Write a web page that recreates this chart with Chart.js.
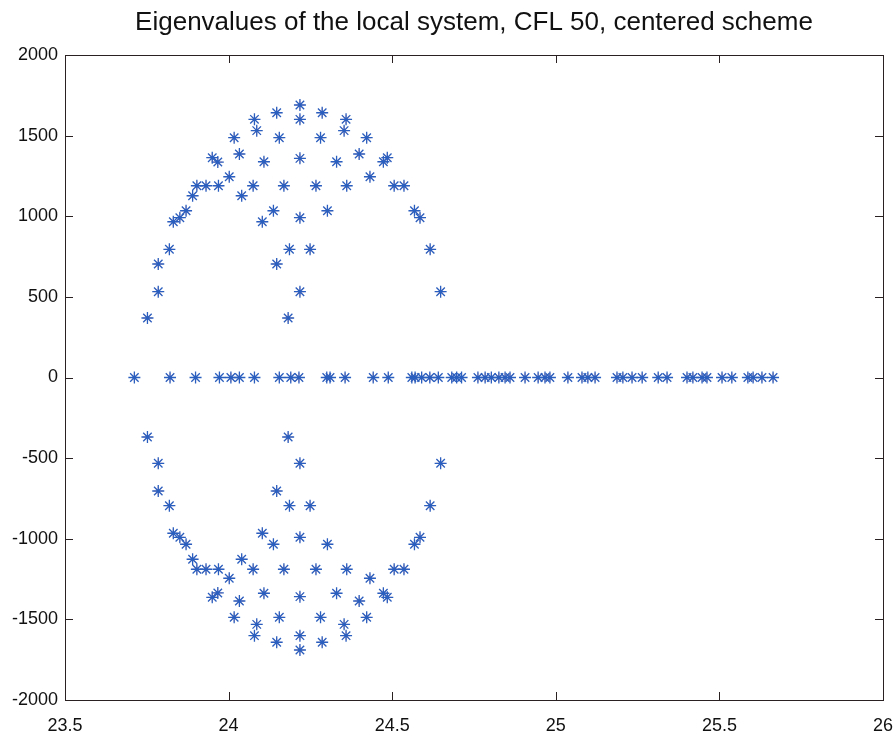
<!DOCTYPE html>
<html>
<head>
<meta charset="utf-8">
<script src="https://cdn.jsdelivr.net/npm/chart.js@4/dist/chart.umd.min.js"></script>
<style>
  html, body { margin: 0; padding: 0; background: #fff; }
  #wrap { width: 896px; height: 736px; }
</style>
</head>
<body>
<div id="wrap"><canvas id="eigChart" width="896" height="736"></canvas></div>
<script>
// real eigenvalues (imaginary part 0)
const realRe = [23.712, 23.821, 23.899, 23.972, 24.007, 24.033, 24.079, 24.155, 24.190, 24.215,
  24.300, 24.310, 24.356, 24.442, 24.488, 24.560, 24.570, 24.590, 24.615, 24.641,
  24.682, 24.697, 24.712, 24.762, 24.784, 24.803, 24.826, 24.845, 24.860, 24.906,
  24.946, 24.967, 24.982, 25.037, 25.080, 25.098, 25.120, 25.187, 25.205, 25.233,
  25.264, 25.313, 25.340, 25.401, 25.419, 25.447, 25.462, 25.508, 25.538, 25.587,
  25.603, 25.630, 25.664];

// complex eigenvalues, upper half plane
const upperRe = [24.218, 24.218, 24.147, 24.286, 24.079, 24.359, 24.086, 24.353, 24.017, 24.155,
  24.281, 24.422, 23.950, 23.967, 24.033, 24.108, 24.218, 24.330, 24.399, 24.473,
  24.485, 24.002, 23.903, 23.931, 23.969, 24.075, 24.169, 24.267, 24.361, 24.432,
  24.506, 24.536, 23.890, 24.040, 23.870, 23.851, 23.831, 24.137, 24.103, 24.218,
  24.302, 24.568, 24.585, 23.819, 24.186, 24.249, 24.616, 23.785, 24.147, 23.785,
  24.218, 24.648, 23.752, 24.182];
const upperIm = [1690, 1601, 1642, 1642, 1601, 1601, 1531, 1531, 1487, 1487,
  1487, 1487, 1363, 1336, 1386, 1338, 1359, 1338, 1386, 1338,
  1363, 1245, 1189, 1189, 1189, 1189, 1189, 1189, 1189, 1245,
  1189, 1189, 1127, 1127, 1034, 991, 966, 1034, 966, 991,
  1034, 1034, 991, 795, 795, 795, 795, 704, 704, 532,
  532, 532, 369, 369];

// complex eigenvalues, lower half plane (conjugates)
const lowerRe = [24.218, 24.218, 24.147, 24.286, 24.079, 24.359, 24.086, 24.353, 24.017, 24.155,
  24.281, 24.422, 23.950, 23.967, 24.033, 24.108, 24.218, 24.330, 24.399, 24.473,
  24.485, 24.002, 23.903, 23.931, 23.969, 24.075, 24.169, 24.267, 24.361, 24.432,
  24.506, 24.536, 23.890, 24.040, 23.870, 23.851, 23.831, 24.137, 24.103, 24.218,
  24.302, 24.568, 24.585, 23.819, 24.186, 24.249, 24.616, 23.785, 24.147, 23.785,
  24.218, 24.648, 23.752, 24.182];
const lowerIm = [-1690, -1601, -1642, -1642, -1601, -1601, -1531, -1531, -1487, -1487,
  -1487, -1487, -1363, -1336, -1386, -1338, -1359, -1338, -1386, -1338,
  -1363, -1245, -1189, -1189, -1189, -1189, -1189, -1189, -1189, -1245,
  -1189, -1189, -1127, -1127, -1034, -991, -966, -1034, -966, -991,
  -1034, -1034, -991, -795, -795, -795, -795, -704, -704, -532,
  -532, -532, -369, -369];

const xTicks = [23.5, 24, 24.5, 25, 25.5, 26];
const xTickLabels = ['23.5', '24', '24.5', '25', '25.5', '26'];
const yTicks = [-2000, -1500, -1000, -500, 0, 500, 1000, 1500, 2000];
const yTickLabels = ['-2000', '-1500', '-1000', '-500', '0', '500', '1000', '1500', '2000'];

const points = [
  ...realRe.map(x => ({ x, y: 0 })),
  ...upperRe.map((x, i) => ({ x, y: upperIm[i] })),
  ...lowerRe.map((x, i) => ({ x, y: lowerIm[i] })),
];

// matlab style box with inward ticks on all four sides
const boxPlugin = {
  id: 'box',
  afterDraw(chart) {
    const { ctx, chartArea: a, scales } = chart;
    ctx.save();
    ctx.strokeStyle = '#2a2222';
    ctx.lineWidth = 1;
    ctx.strokeRect(a.left + 0.5, a.top + 0.5, a.right - a.left, a.bottom - a.top);
    ctx.beginPath();
    xTicks.forEach(v => {
      const px = Math.round(scales.x.getPixelForValue(v)) + 0.5;
      ctx.moveTo(px, a.bottom); ctx.lineTo(px, a.bottom - 8);
      ctx.moveTo(px, a.top); ctx.lineTo(px, a.top + 8);
    });
    yTicks.forEach(v => {
      const py = Math.round(scales.y.getPixelForValue(v)) + 0.5;
      ctx.moveTo(a.left, py); ctx.lineTo(a.left + 8, py);
      ctx.moveTo(a.right, py); ctx.lineTo(a.right - 8, py);
    });
    ctx.stroke();
    ctx.restore();
  }
};

new Chart(document.getElementById('eigChart'), {
  type: 'scatter',
  data: {
    datasets: [
      {
        label: 'red',
        data: points,
        pointStyle: 'star',
        radius: 4.5,
        borderColor: 'rgba(220,70,70,0.55)',
        backgroundColor: 'rgba(0,0,0,0)',
        borderWidth: 1,
        order: 2,
      },
      {
        label: 'eigenvalues',
        data: points,
        pointStyle: 'star',
        radius: 6,
        borderColor: '#2b5fbf',
        backgroundColor: 'rgba(0,0,0,0)',
        borderWidth: 1.3,
        order: 1,
      }
    ]
  },
  options: {
    responsive: false,
    animation: false,
    events: [],
    layout: { padding: { right: 13, left: 0, bottom: 0 } },
    plugins: {
      legend: { display: false },
      tooltip: { enabled: false },
      title: {
        display: true,
        text: 'Eigenvalues of the local system, CFL 50, centered scheme',
        color: '#111',
        fullSize: false,
        font: { family: 'Liberation Sans, Arial, sans-serif', size: 26, weight: 'normal', lineHeight: 1.2 },
        padding: { top: 7, bottom: 16.8 }
      }
    },
    scales: {
      x: {
        type: 'linear',
        min: 23.5, max: 26,
        afterBuildTicks: s => { s.ticks = xTicks.map(v => ({ value: v })); },
        afterFit: s => { s.height = 36; s.paddingLeft = 0; s.paddingRight = 0; },
        grid: { display: false, drawTicks: false },
        border: { display: false },
        ticks: {
          color: '#111',
          padding: 15,
          maxRotation: 0,
          font: { family: 'Liberation Sans, Arial, sans-serif', size: 18 },
          callback: (v, i) => xTickLabels[i]
        }
      },
      y: {
        type: 'linear',
        min: -2000, max: 2000,
        afterBuildTicks: s => { s.ticks = yTicks.map(v => ({ value: v })); },
        afterFit: s => { s.width = 65; s.paddingTop = 0; s.paddingBottom = 0; },
        grid: { display: false, drawTicks: false },
        border: { display: false },
        ticks: {
          color: '#111',
          padding: 7,
          font: { family: 'Liberation Sans, Arial, sans-serif', size: 18 },
          callback: (v, i) => yTickLabels[i]
        }
      }
    }
  },
  plugins: [boxPlugin]
});
</script>
</body>
</html>
